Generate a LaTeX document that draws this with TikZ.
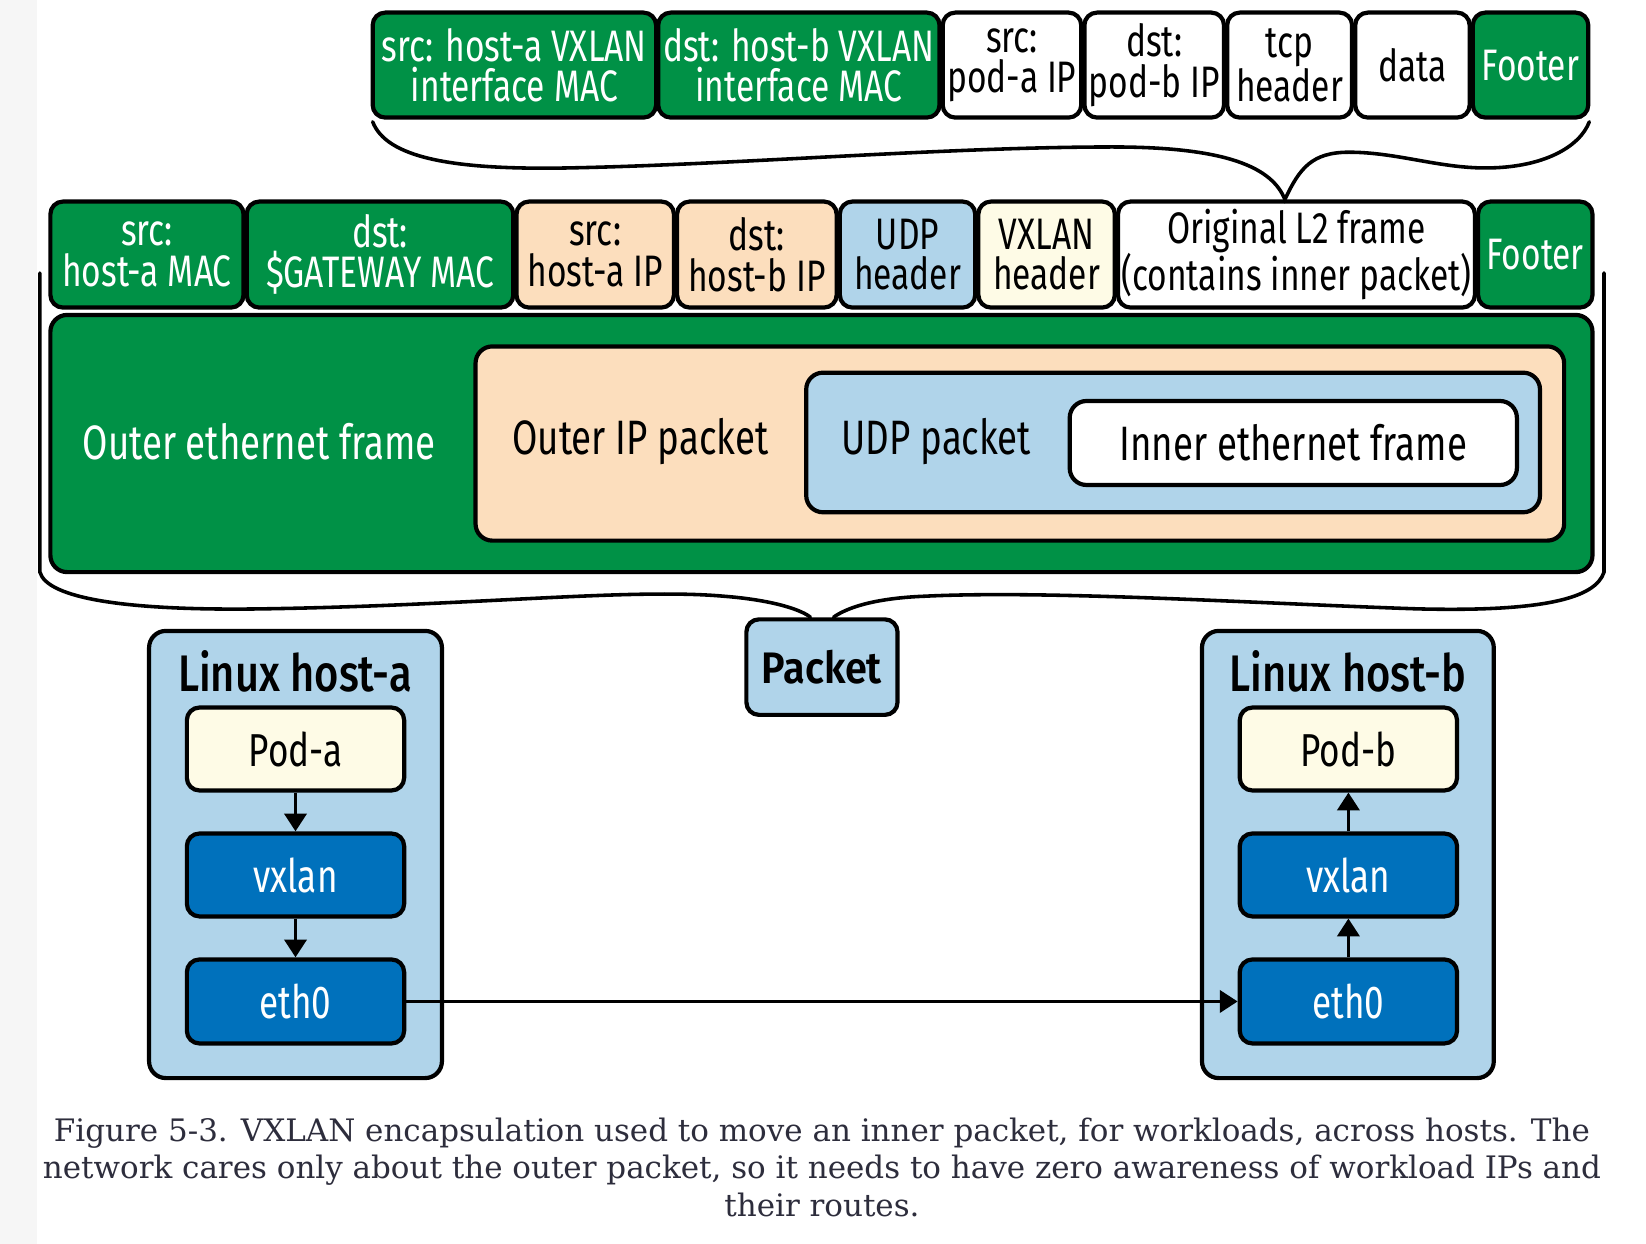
\documentclass[tikz,border=0pt]{standalone}
\usepackage{fontspec}
\setmainfont{Fira Sans}[FakeStretch=0.76]
\newfontfamily\titlefont{Fira Sans}[FakeStretch=0.81, UprightFont={* Medium}]
\newfontfamily\pktfont{Fira Sans}[FakeStretch=0.9, UprightFont={* SemiBold}]
\newfontfamily\capfont{DejaVu Serif}
\usetikzlibrary{arrows.meta}
\definecolor{vgreen}{RGB}{0,145,70}
\definecolor{vpeach}{RGB}{252,222,189}
\definecolor{vlblue}{RGB}{176,212,234}
\definecolor{vyellow}{RGB}{254,251,230}
\definecolor{vblue}{RGB}{0,113,188}
\definecolor{capgray}{RGB}{45,45,60}
\definecolor{edgegray}{RGB}{246,246,246}
\newcommand\mkbox[7]{\node[#6, minimum width={(#4)-(#2)}, minimum height={(#5)-(#3)}] (#1) at ({((#2)+(#4))/2},{((#3)+(#5))/2}) {#7};}
\begin{document}
\begin{tikzpicture}[x=1pt,y=-1pt,
  fld/.style={draw=black, line width=4pt, rounded corners=12pt, inner sep=0pt, align=center, font=\fontsize{42}{38.5}\selectfont},
  gfld/.style={fld, fill=vgreen, text=white},
  wfld/.style={fld, fill=white},
  pfld/.style={fld, fill=vpeach},
  bfld/.style={fld, fill=vlblue},
  yfld/.style={fld, fill=vyellow},
  hostbox/.style={draw=black, line width=4pt, rounded corners=16pt, fill=vlblue, inner sep=0pt},
  podbox/.style={fld, fill=vyellow, font=\fontsize{44}{40}\selectfont},
  ifbox/.style={fld, fill=vblue, text=white, font=\fontsize{44}{40}\selectfont},
  lbl/.style={inner sep=0pt, font=\fontsize{46}{40}\selectfont},
  hosttitle/.style={inner sep=0pt, font=\titlefont\fontsize{49}{44}\selectfont},
  arr/.style={line width=3.6pt, -{Triangle[length=17pt,width=21pt]}},
  brc/.style={line width=3.4pt, line cap=round}
]
\useasboundingbox (0,0) rectangle (1568,1185);
\fill[white] (0,0) rectangle (1568,1185);
\fill[edgegray] (0,0) rectangle (35,1185);

% top row (inner frame)
\mkbox{b1}{355}{12}{625}{112}{gfld}{src: host-a VXLAN\\interface MAC}
\mkbox{b2}{627}{12}{895}{112}{gfld}{dst: host-b VXLAN\\interface MAC}
\mkbox{b3}{898}{12}{1030}{112}{wfld}{src:\\pod-a IP}
\mkbox{b4}{1033}{12}{1166}{112}{wfld}{dst:\\pod-b IP}
\mkbox{b5}{1169}{12}{1288}{112}{wfld}{tcp\\header}
\mkbox{b6}{1291}{12}{1400}{112}{wfld}{data}
\mkbox{b7}{1403}{12}{1513}{112}{gfld}{Footer}

% second row (outer frame)
\mkbox{c1}{48}{192}{232}{293}{gfld}{src:\\host-a MAC}
\mkbox{c2}{235}{192}{489}{293}{gfld}{dst:\\\$GATEWAY MAC}
\mkbox{c3}{492}{192}{642}{293}{pfld}{src:\\host-a IP}
\mkbox{c4}{645}{192}{797}{293}{pfld}{dst:\\host-b IP}
\mkbox{c5}{800}{192}{929}{293}{bfld}{UDP\\header}
\mkbox{c6}{932}{192}{1062}{293}{yfld}{VXLAN\\header}
\mkbox{c7}{1065}{192}{1405}{293}{wfld}{Original L2 frame\\(contains inner packet)}
\mkbox{c8}{1408}{192}{1517}{293}{gfld}{Footer}

% top brace
\draw[brc] ([xshift=2pt,yshift=-2pt]b1.south west)
  .. controls (368,150) and (430,162) .. (540,160)
  .. controls (700,157) and (900,140) .. (1060,140)
  .. controls (1170,140) and (1212,160) .. ([xshift=-11pt]c7.north)
  .. controls (1238,160) and (1250,145) .. (1285,145)
  .. controls (1330,145) and (1370,160) .. (1415,160)
  .. controls (1470,160) and (1505,140) .. ([xshift=-1pt,yshift=-2pt]b7.south east);

% nested frames
\mkbox{frame}{48}{300}{1517}{545}{fld,fill=vgreen,rounded corners=16pt}{}
\mkbox{ippkt}{453}{330}{1490}{515}{fld,fill=vpeach,rounded corners=16pt}{}
\mkbox{udppkt}{768}{355}{1467}{488}{fld,fill=vlblue,rounded corners=16pt}{}
\mkbox{inner}{1019}{382}{1445}{462}{fld,fill=white,rounded corners=16pt,font=\fontsize{46}{40}\selectfont}{Inner ethernet frame}
\node[lbl, text=white] (lframe) at (247,421) {Outer ethernet frame};
\node[lbl] (lip) at (610,421) {Outer IP packet};
\node[lbl] (ludp) at (892,421) {UDP packet};

% packet node
\mkbox{pkt}{711}{590}{855}{681}{bfld,font=\pktfont\fontsize{42}{38}\selectfont}{Packet}

% bottom brace
\coordinate (blt) at (38,260);
\coordinate (brt) at (1528,260);
\draw[brc] (blt) -- (38,545)
  .. controls (45,570) and (120,582) .. (250,580)
  .. controls (450,577) and (600,560) .. (690,568)
  .. controls (740,572) and (765,582) .. ([xshift=-11pt]pkt.north);
\draw[brc] ([xshift=11pt]pkt.north)
  .. controls (805,580) and (830,570) .. (880,568)
  .. controls (1000,562) and (1200,575) .. (1350,580)
  .. controls (1470,583) and (1520,570) .. (1528,545) -- (brt);

% hosts
\mkbox{hosta}{142}{601}{421}{1027}{hostbox}{}
\mkbox{hostb}{1145}{601}{1423}{1027}{hostbox}{}
\node[hosttitle] (ta) at (281,640) {Linux host-a};
\node[hosttitle] (tb) at (1284,640) {Linux host-b};
\mkbox{poda}{178}{674}{385}{753}{podbox}{Pod-a}
\mkbox{vxa}{178}{794}{385}{873}{ifbox}{vxlan}
\mkbox{etha}{178}{914}{385}{994}{ifbox}{eth0}
\mkbox{podb}{1181}{674}{1388}{753}{podbox}{Pod-b}
\mkbox{vxb}{1181}{794}{1388}{873}{ifbox}{vxlan}
\mkbox{ethb}{1181}{914}{1388}{994}{ifbox}{eth0}

\draw[arr] (poda) -- (vxa);
\draw[arr] (vxa) -- (etha);
\draw[arr] (ethb) -- (vxb);
\draw[arr] (vxb) -- (podb);
\draw[arr] (etha) -- (ethb);

% caption
\node[font=\capfont\fontsize{29.5}{35.5}\selectfont, text=capgray, align=center, inner sep=0pt] (cap) at (783,1112)
  {Figure 5-3. VXLAN encapsulation used to move an inner packet, for workloads, across hosts. The\\
   network cares only about the outer packet, so it needs to have zero awareness of workload IPs and\\
   their routes.};
\end{tikzpicture}
\end{document}
